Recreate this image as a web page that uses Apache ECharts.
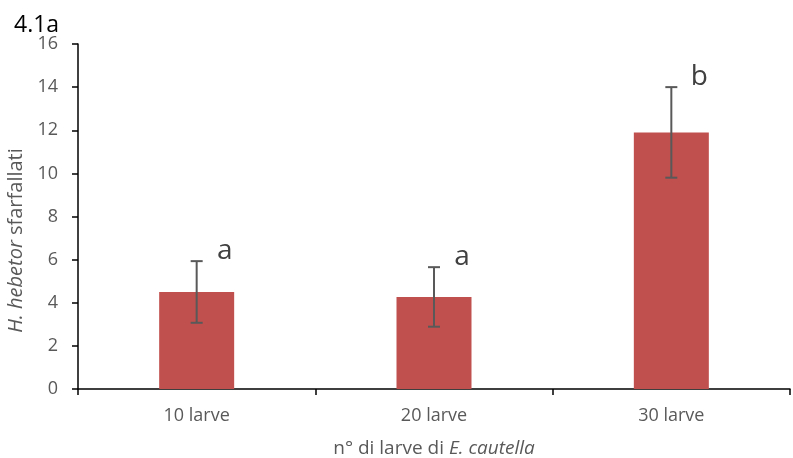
<!DOCTYPE html>
<html>
<head>
<meta charset="utf-8">
<script src="https://cdn.jsdelivr.net/npm/echarts@6/dist/echarts.min.js"></script>
<style>
html,body{margin:0;padding:0;background:#fff;}
#chart{width:793px;height:458px;}
</style>
</head>
<body>
<div id="chart"></div>
<script>
const categories = ['10 larve', '20 larve', '30 larve'];
const means = [4.5, 4.27, 11.9];
const errors = [1.43, 1.38, 2.1];
const letters = ['a', 'a', 'b'];
const yTicks = [0, 2, 4, 6, 8, 10, 12, 14, 16];

const chart = echarts.init(document.getElementById('chart'));
const FONT = 'Open Sans';
const GRAY = '#595959';

const errData = categories.map((c, i) => [i, means[i] - errors[i], means[i] + errors[i]]);
const letterData = categories.map((c, i) => [i, means[i] + errors[i], letters[i]]);

chart.setOption({
  animation: false,
  title: {
    text: '4.1a',
    left: 9,
    top: 9,
    textStyle: {fontFamily: FONT, fontSize: 23, fontWeight: 'normal', color: '#000'}
  },
  grid: {left: 78, right: 3, top: 44, bottom: 69, containLabel: false, outerBoundsMode: 'none'},
  xAxis: {
    type: 'category',
    data: categories,
    name: '{n|n° di larve di }{i|E. cautella}',
    nameLocation: 'middle',
    nameGap: 50,
    nameTextStyle: {
      rich: {
        n: {fontFamily: FONT, fontSize: 19, color: GRAY},
        i: {fontFamily: FONT, fontSize: 19, color: GRAY, fontStyle: 'italic'}
      }
    },
    axisLine: {lineStyle: {color: '#000', width: 1.5}},
    axisTick: {show: true, alignWithLabel: false, length: 6, lineStyle: {color: '#000', width: 1.5}},
    axisLabel: {fontFamily: FONT, fontSize: 18, color: GRAY, margin: 18}
  },
  yAxis: {
    type: 'value',
    min: yTicks[0],
    max: yTicks[yTicks.length - 1],
    interval: 2,
    name: '{i|H. hebetor }{n|sfarfallati}',
    nameLocation: 'middle',
    nameGap: 52,
    nameTextStyle: {
      padding: [0, 48, 0, 0],
      rich: {
        i: {fontFamily: FONT, fontSize: 20, color: GRAY, fontStyle: 'italic'},
        n: {fontFamily: FONT, fontSize: 20, color: GRAY}
      }
    },
    axisLine: {show: true, lineStyle: {color: '#000', width: 1.5}},
    axisTick: {show: true, length: 6, lineStyle: {color: '#000', width: 1.5}},
    axisLabel: {fontFamily: FONT, fontSize: 18, color: GRAY, margin: 20},
    splitLine: {show: false}
  },
  series: [
    {
      type: 'bar',
      data: means,
      barWidth: '31.6%',
      itemStyle: {color: '#C0504D'},
      z: 2
    },
    {
      type: 'custom',
      data: errData,
      z: 3,
      renderItem: function (params, api) {
        const x = api.value(0);
        const lo = api.coord([x, api.value(1)]);
        const hi = api.coord([x, api.value(2)]);
        const hw = 6;
        const style = {stroke: GRAY, lineWidth: 2};
        return {
          type: 'group',
          children: [
            {type: 'line', shape: {x1: lo[0], y1: lo[1], x2: hi[0], y2: hi[1]}, style: style},
            {type: 'line', shape: {x1: hi[0] - hw, y1: hi[1], x2: hi[0] + hw, y2: hi[1]}, style: style},
            {type: 'line', shape: {x1: lo[0] - hw, y1: lo[1], x2: lo[0] + hw, y2: lo[1]}, style: style}
          ]
        };
      }
    },
    {
      type: 'custom',
      data: letterData,
      z: 4,
      renderItem: function (params, api) {
        const p = api.coord([api.value(0), api.value(1)]);
        return {
          type: 'text',
          x: p[0] + 28,
          y: p[1] - 10,
          style: {
            text: letters[params.dataIndex],
            fontFamily: FONT,
            fontSize: 28,
            fill: '#404040',
            align: 'center',
            verticalAlign: 'middle'
          }
        };
      }
    }
  ]
});
</script>
</body>
</html>
